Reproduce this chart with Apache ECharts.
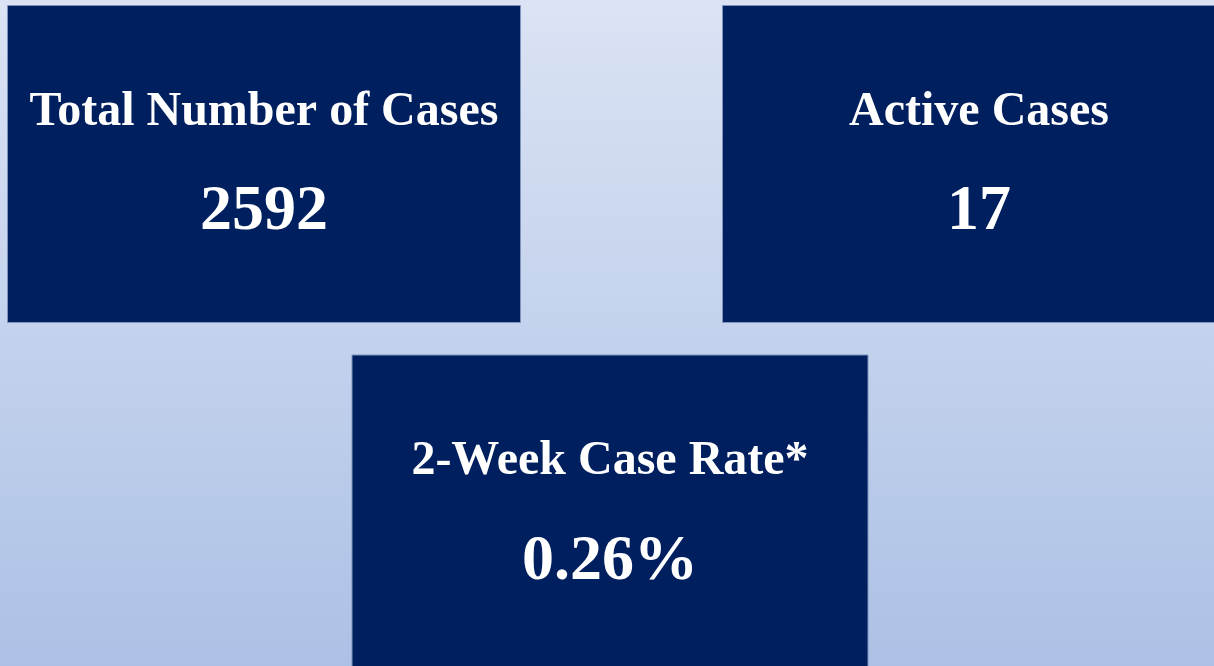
<!DOCTYPE html>
<html>
<head>
<meta charset="utf-8">
<script src="https://cdn.jsdelivr.net/npm/echarts@6/dist/echarts.min.js"></script>
<style>
  html, body { margin: 0; padding: 0; }
  #main { width: 1214px; height: 666px; }
</style>
</head>
<body>
<div id="main"></div>
<script>
var titles = ['Total Number of Cases', 'Active Cases', '2-Week Case Rate*'];
var values = ['2592', '17', '0.26%'];

var myChart = echarts.init(document.getElementById('main'));

// card boxes: x, y, w, h
var boxes = [
  [7.5, 5.5, 513, 317],
  [722.5, 5.5, 513, 317],
  [352, 355, 516, 320]
];

var elements = [{
  type: 'rect',
  shape: { x: 0, y: 0, width: 1214, height: 666 },
  style: {
    fill: new echarts.graphic.LinearGradient(0, 0, 0, 1, [
      { offset: 0, color: '#dbe3f4' },
      { offset: 1, color: '#acc1e5' }
    ])
  },
  silent: true
}];

for (var i = 0; i < titles.length; i++) {
  var b = boxes[i];
  var cx = b[0] + b[2] / 2;
  elements.push({
    type: 'rect',
    shape: { x: b[0], y: b[1], width: b[2], height: b[3] },
    style: { fill: '#001f5f', stroke: '#7f93bd', lineWidth: 1 }
  });
  elements.push({
    type: 'text',
    x: cx,
    y: b[1] + 107,
    style: {
      text: titles[i],
      fill: '#ffffff',
      font: 'bold 48px "Liberation Serif", "Times New Roman", serif',
      align: 'center',
      verticalAlign: 'middle'
    }
  });
  elements.push({
    type: 'text',
    x: cx,
    y: b[1] + 207,
    style: {
      text: values[i],
      fill: '#ffffff',
      font: 'bold 64px "Liberation Serif", "Times New Roman", serif',
      align: 'center',
      verticalAlign: 'middle'
    }
  });
}

var option = {
  animation: false,
  graphic: { elements: elements }
};

option && myChart.setOption(option);
</script>
</body>
</html>
